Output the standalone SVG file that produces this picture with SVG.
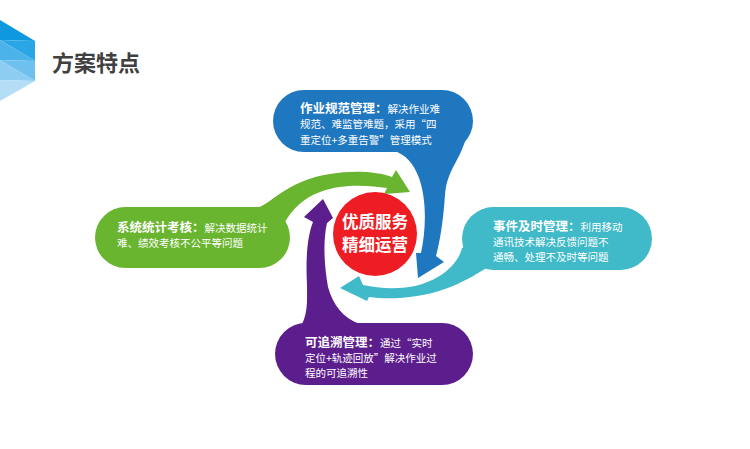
<svg xmlns="http://www.w3.org/2000/svg" width="750" height="449" viewBox="0 0 750 449">
<style>
.t{font-family:"Noto Sans CJK SC","Noto Sans",sans-serif;fill:#fff;font-size:10.5px}
.b{font-weight:bold;font-size:12.5px}
.title{font-family:"Noto Sans CJK SC","Noto Sans",sans-serif;font-weight:bold;font-size:22px;fill:#404040}
.ct{font-family:"Noto Sans CJK SC","Noto Sans",sans-serif;font-weight:bold;font-size:16.5px;fill:#fff}
.blue{fill:#1F77C0}.green{fill:#6AB52F}.teal{fill:#40B9C8}.purple{fill:#5C1E8C}
</style>
<rect width="750" height="449" fill="#fff"/>
<g id="header">
<polygon points="0,20 35,41 0,40" fill="#0E98DE"/>
<polygon points="35,41 35,61 0,40" fill="#2AA6E6"/>
<polygon points="0,40 35,61 0,60" fill="#4CB3EA"/>
<polygon points="35,61 35,81 0,60" fill="#6EC0EE"/>
<polygon points="0,60 35,81 0,80" fill="#8CCDF1"/>
<polygon points="0,80 35,81 0,101" fill="#B3DEF6"/>
<text class="title" x="52" y="71">方案特点</text>
</g>
<g id="connectors">
<path class="blue" d="M395,140 L468,130 C462,160 447,168 445,195 C443,225 439,245 436,256 L444,262 L418,278 L416,253 L421,253 C426,230 427,200 419,178 C413,162 405,155 395,151 Z"/>
<path class="green" d="M250,215 L258,208 C275,200 290,180 330,174 C355,170 378,172 392,177 L396,170 L410,192 L384,194 L387,188 C370,186 345,183 320,192 C303,198 292,210 285,222 L270,230 Z"/>
<path class="teal" d="M480,240 L462,248 C458,265 440,280 415,286 C395,290 378,288 363,285 L359,276 L340,288 L367,301 L369,297 C390,300 420,298 445,289 C462,283 475,275 485,269 Z"/>
<path class="purple" d="M320,340 L302,324 C308,312 307,300 307,285 C306,265 306,240 313,222 L304,217 L323,199 L333,218 L327,223 C323,240 324,265 328,287 C333,305 343,318 360,324 Z"/>
</g>
<g id="center">
<circle cx="375" cy="234" r="42" fill="#EE1D23"/>
<text class="ct" text-anchor="middle"><tspan x="375" y="228">优质服务</tspan><tspan x="375" y="251">精细运营</tspan></text>
</g>
<g id="node-blue">
<rect class="blue" x="273" y="90" width="200" height="62" rx="31"/>
<text class="t"><tspan x="300" y="113"><tspan class="b">作业规范管理：</tspan>解决作业难</tspan><tspan x="300" y="128">规范、难监管难题，采用“四</tspan><tspan x="300" y="144">重定位+多重告警”管理模式</tspan></text>
</g>
<g id="node-teal">
<rect class="teal" x="462" y="207" width="190" height="63" rx="31.5"/>
<text class="t"><tspan x="493" y="231"><tspan class="b">事件及时管理：</tspan>利用移动</tspan><tspan x="493" y="246">通讯技术解决反馈问题不</tspan><tspan x="493" y="261">通畅、处理不及时等问题</tspan></text>
</g>
<g id="node-green">
<rect class="green" x="95" y="207" width="195" height="61" rx="30.5"/>
<text class="t"><tspan x="117" y="232"><tspan class="b">系统统计考核：</tspan>解决数据统计</tspan><tspan x="117" y="247">难、绩效考核不公平等问题</tspan></text>
</g>
<g id="node-purple">
<rect class="purple" x="275" y="323" width="198" height="62" rx="31"/>
<text class="t"><tspan x="305" y="347"><tspan class="b">可追溯管理：</tspan>通过“实时</tspan><tspan x="305" y="362">定位+轨迹回放”解决作业过</tspan><tspan x="305" y="377">程的可追溯性</tspan></text>
</g>
</svg>
